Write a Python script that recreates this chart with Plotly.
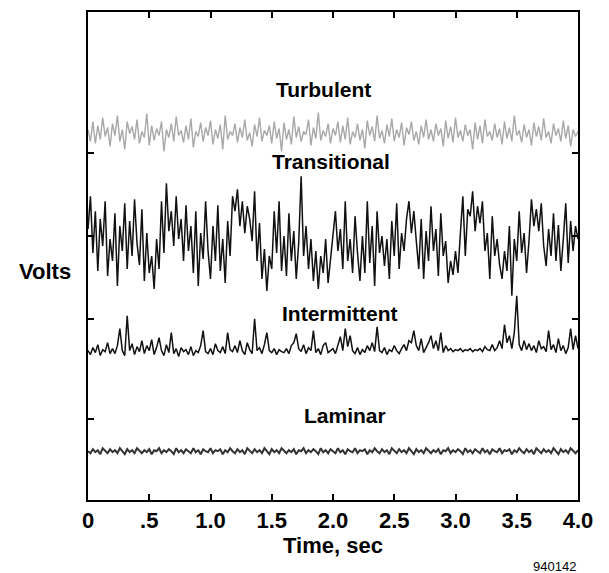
import plotly.graph_objects as go

# time base (s): 201 samples, 0.02 s apart
time_s = [round(i * 0.02, 2) for i in range(201)]

turbulent = [
    372, 360, 380, 358, 376, 362, 384, 365, 374, 355,
    378, 366, 386, 360, 372, 352, 380, 368, 375, 362,
    382, 358, 370, 364, 388, 356, 376, 361, 373, 366,
    380, 350, 372, 364, 378, 360, 385, 366, 371, 359,
    376, 362, 383, 354, 370, 365, 379, 360, 374, 366,
    381, 357, 372, 363, 377, 352, 386, 362, 370, 366,
    378, 359, 374, 364, 382, 361, 369, 355, 377, 365,
    384, 360, 371, 366, 376, 358, 380, 363, 373, 350,
    379, 362, 372, 357, 385, 364, 375, 360, 370, 367,
    382, 356, 374, 363, 389, 361, 371, 365, 378, 358,
    373, 366, 380, 359, 376, 362, 384, 357, 370, 364,
    378, 361, 372, 353, 381, 366, 375, 360, 386, 363,
    371, 358, 377, 365, 383, 360, 372, 364, 379, 356,
    374, 367, 380, 361, 370, 357, 376, 364, 382, 362,
    372, 360, 378, 366, 373, 355, 381, 363, 375, 359,
    384, 364, 371, 360, 377, 366, 372, 352, 379, 362,
    376, 358, 382, 365, 370, 361, 378, 364, 373, 357,
    380, 363, 374, 360, 386, 366, 371, 359, 377, 364,
    372, 356, 379, 365, 375, 361, 383, 364, 370, 358,
    378, 366, 373, 360, 381, 363, 376, 355, 372, 365,
    370,
]

transitional = [
    272, 305, 248, 290, 230, 282, 255, 300, 225, 262,
    240, 288, 215, 275, 250, 298, 232, 280, 245, 302,
    258, 236, 292, 220, 268, 228, 245, 212, 262, 232,
    300, 248, 318, 270, 290, 255, 305, 262, 282, 240,
    296, 250, 275, 228, 290, 215, 268, 242, 300, 250,
    222, 275, 240, 296, 230, 262, 218, 280, 245, 305,
    290, 312, 275, 300, 268, 295, 282, 260, 310, 240,
    278, 222, 252, 210, 245, 232, 290, 248, 300, 230,
    265, 225, 288, 240, 270, 222, 258, 325, 245, 275,
    232, 262, 220, 250, 212, 245, 228, 262, 218, 240,
    265, 290, 250, 272, 232, 300, 240, 262, 228, 285,
    248, 220, 265, 228, 300, 238, 275, 215, 290, 248,
    265, 235, 262, 222, 280, 245, 298, 232, 268, 250,
    282, 300, 268, 290, 260, 232, 282, 222, 270, 240,
    295, 250, 272, 225, 288, 245, 260, 218, 240, 226,
    250, 228, 268, 305, 245, 292, 285, 310, 270, 295,
    278, 300, 250, 268, 222, 285, 245, 262, 236, 222,
    250, 230, 275, 205, 262, 240, 290, 248, 268, 228,
    260, 302, 275, 292, 270, 298, 255, 235, 272, 245,
    288, 240, 276, 230, 262, 298, 238, 280, 250, 275,
    262,
]

intermittent = [
    150, 146, 153, 148, 156, 145, 151, 149, 158, 147,
    152, 147, 155, 172, 150, 145, 185, 150, 157, 146,
    154, 149, 160, 147, 155, 150, 161, 146, 153, 163,
    150, 145, 156, 148, 168, 147, 152, 144, 153, 149,
    151, 146, 154, 145, 150, 148, 155, 170, 149, 147,
    152, 146, 157, 150, 148, 154, 147, 168, 151, 149,
    155, 148, 160, 150, 146, 158, 151, 147, 182, 150,
    153, 147, 156, 168, 150, 148, 152, 146, 151, 149,
    148, 152, 147, 155, 158, 167, 152, 149, 156, 147,
    153, 150, 170, 148, 152, 146, 155, 158, 148, 150,
    152, 147, 156, 164, 150, 172, 154, 165, 150, 147,
    153, 146, 151, 148, 155, 150, 158, 149, 174, 150,
    148, 153, 146, 151, 149, 155, 150, 147, 152, 156,
    150, 160, 158, 170, 155, 150, 162, 148, 153, 158,
    165, 152, 160, 150, 168, 148, 155, 150, 152, 149,
    151, 150, 152, 149, 151, 150, 152, 149, 151, 150,
    152, 149, 154, 151, 150, 156, 150, 153, 160, 152,
    176, 158, 165, 152, 168, 205, 156, 150, 160, 151,
    157, 150, 155, 148, 160, 152, 154, 149, 170, 151,
    156, 148, 162, 150, 155, 147, 153, 172, 151, 165,
    152,
]

laminar = [
    49, 47, 51, 48, 50, 46, 52, 49, 47, 51,
    48, 50, 47, 52, 49, 46, 51, 48, 50, 47,
    52, 49, 47, 50, 48, 51, 46, 50, 49, 52,
    47, 50, 48, 51, 49, 46, 52, 48, 50, 47,
    51, 49, 47, 52, 48, 50, 46, 51, 49, 48,
    52, 47, 50, 49, 51, 46, 50, 48, 52, 49,
    47, 51, 48, 50, 46, 52, 49, 47, 51, 48,
    50, 47, 52, 49, 46, 51, 48, 50, 47, 52,
    49, 47, 50, 48, 51, 46, 50, 49, 52, 47,
    50, 48, 51, 49, 46, 52, 48, 50, 47, 51,
    49, 47, 52, 48, 50, 46, 51, 49, 48, 52,
    47, 50, 49, 51, 46, 50, 48, 52, 49, 47,
    51, 48, 50, 46, 52, 49, 47, 51, 48, 50,
    47, 52, 49, 46, 51, 48, 50, 47, 52, 49,
    47, 50, 48, 51, 46, 50, 49, 52, 47, 50,
    48, 51, 49, 46, 52, 48, 50, 47, 51, 49,
    47, 52, 48, 50, 46, 51, 49, 48, 52, 47,
    50, 49, 51, 46, 50, 48, 52, 49, 47, 51,
    48, 50, 46, 52, 49, 47, 51, 48, 50, 47,
    52, 49, 46, 51, 48, 50, 47, 52, 49, 47,
    50,
]

x_tick_vals = [0, 0.5, 1.0, 1.5, 2.0, 2.5, 3.0, 3.5, 4.0]
x_tick_text = ["0", ".5", "1.0", "1.5", "2.0", "2.5", "3.0", "3.5", "4.0"]
y_tick_vals = [81, 182, 265, 348]

labels = ["Turbulent", "Transitional", "Intermittent", "Laminar"]
label_x = [1.92, 1.98, 2.06, 2.10]
label_y = [412, 340, 187, 85]

FONT = "Liberation Sans, Arial, Helvetica, sans-serif"

fig = go.Figure()
fig.add_trace(go.Scatter(x=time_s, y=turbulent, mode="lines",
                         line=dict(color="#a8a8a8", width=1.4), hoverinfo="skip"))
fig.add_trace(go.Scatter(x=time_s, y=transitional, mode="lines",
                         line=dict(color="#111111", width=1.5), hoverinfo="skip"))
fig.add_trace(go.Scatter(x=time_s, y=intermittent, mode="lines",
                         line=dict(color="#111111", width=1.5), hoverinfo="skip"))
fig.add_trace(go.Scatter(x=time_s, y=laminar, mode="lines",
                         line=dict(color="#333333", width=2), hoverinfo="skip"))

for t, lx, ly in zip(labels, label_x, label_y):
    fig.add_annotation(x=lx, y=ly, text=t, showarrow=False,
                       font=dict(family=FONT, size=21, color="black", weight="bold"))

fig.update_layout(
    width=609, height=573,
    margin=dict(l=88, r=31, t=10, b=73),
    paper_bgcolor="white", plot_bgcolor="white",
    showlegend=False,
    font=dict(family=FONT, color="black"),
    xaxis=dict(range=[0, 4], tickvals=x_tick_vals, ticktext=x_tick_text,
               ticks="inside", ticklen=6, tickwidth=1.5, tickcolor="black",
               showline=True, linecolor="black", linewidth=2, mirror="ticks",
               showgrid=False, zeroline=False,
               tickfont=dict(family=FONT, size=22, color="black", weight="bold"),
               title=dict(text="Time, sec", standoff=2,
                          font=dict(family=FONT, size=22, color="black", weight="bold"))),
    yaxis=dict(range=[0, 490], tickvals=y_tick_vals, showticklabels=False,
               ticks="inside", ticklen=6, tickwidth=1.5, tickcolor="black",
               showline=True, linecolor="black", linewidth=2, mirror="ticks",
               showgrid=False, zeroline=False),
)

fig.add_annotation(x=1.0, xref="paper", y=-0.155, yref="paper", xanchor="right",
                   text="940142", showarrow=False,
                   font=dict(family=FONT, size=13, color="black"))

fig.add_annotation(x=-0.03, xref="paper", y=0.469, yref="paper", xanchor="right",
                   text="Volts", showarrow=False,
                   font=dict(family=FONT, size=22, color="black", weight="bold"))

fig.write_html("out.html")
